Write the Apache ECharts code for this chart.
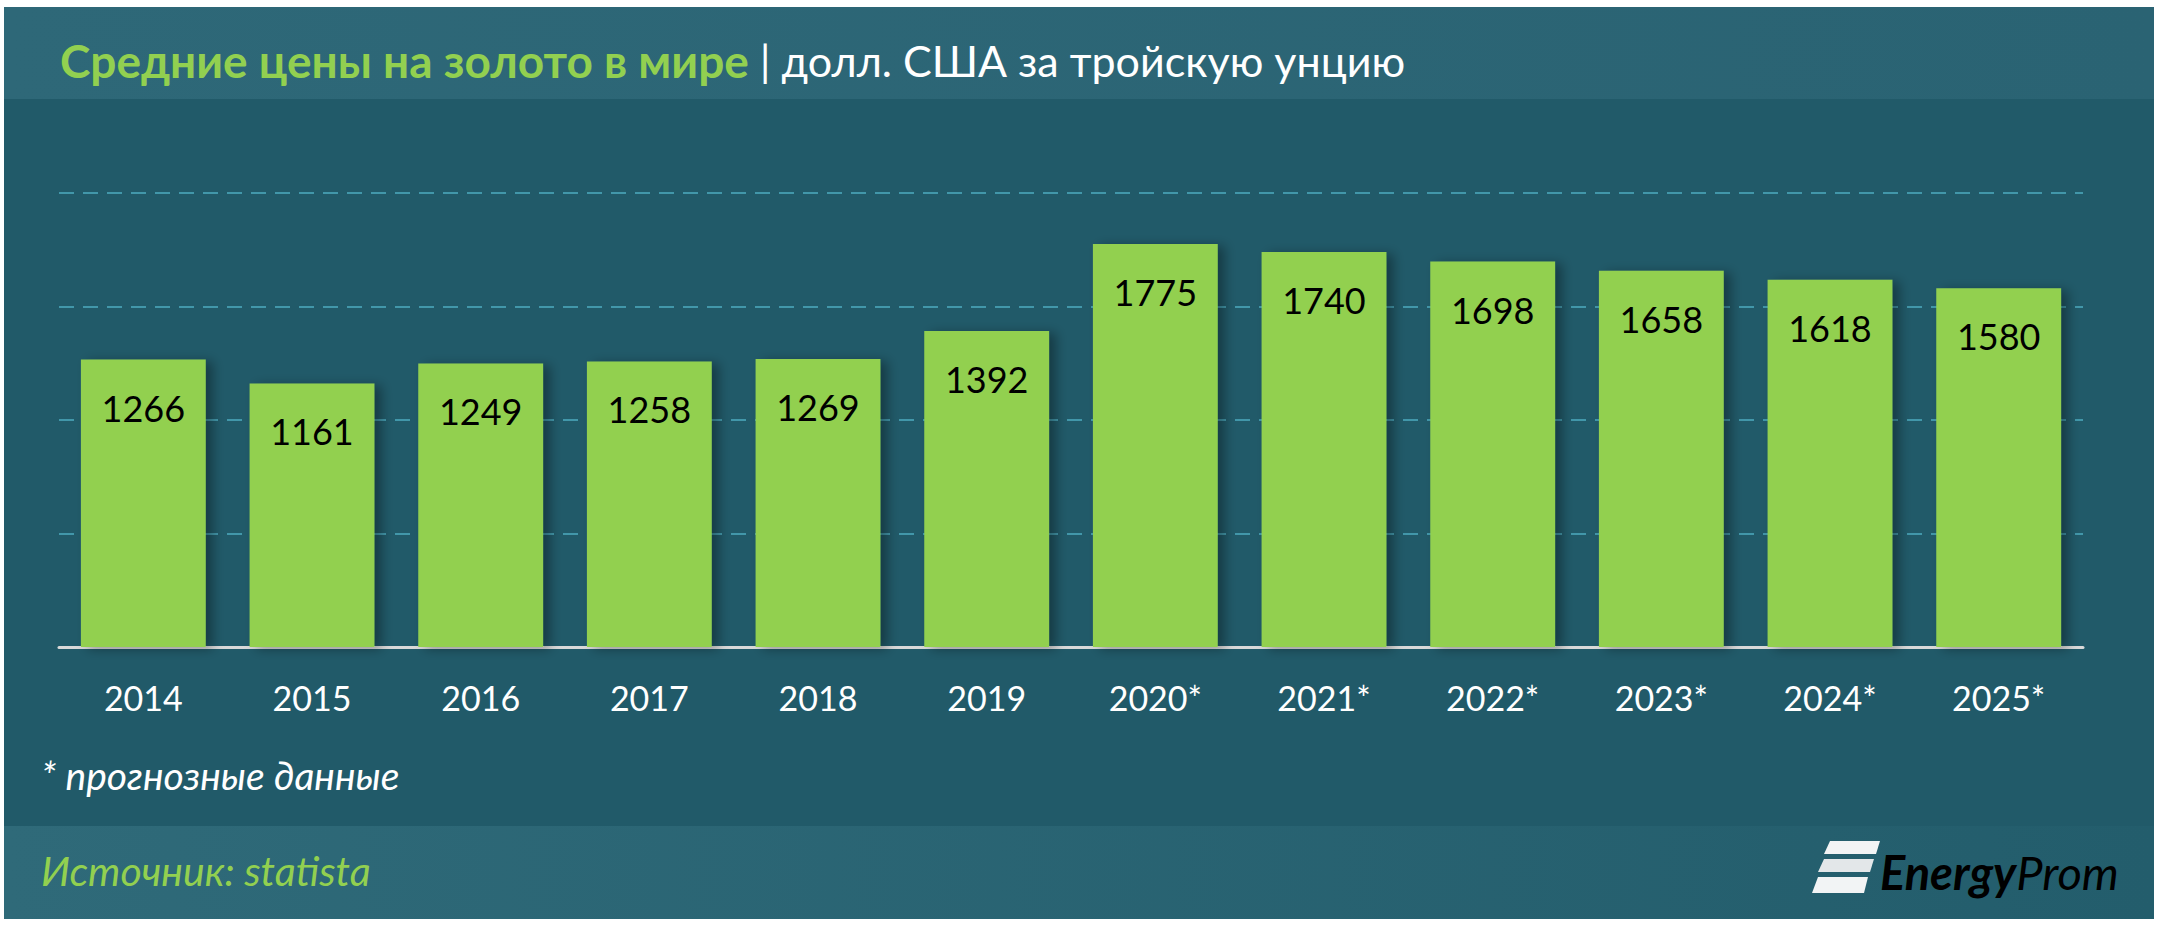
<!DOCTYPE html>
<html>
<head>
<meta charset="utf-8">
<script src="https://cdn.jsdelivr.net/npm/echarts@6/dist/echarts.min.js"></script>
<style>
  html, body { margin: 0; padding: 0; background: #fff; }
  #chart { width: 2160px; height: 928px; }
</style>
</head>
<body>
<div id="chart"></div>
<script>
// годы и средние цены (долл. США за тройскую унцию)
var years = ['2014', '2015', '2016', '2017', '2018', '2019', '2020*', '2021*', '2022*', '2023*', '2024*', '2025*'];
var prices = [1266, 1161, 1249, 1258, 1269, 1392, 1775, 1740, 1698, 1658, 1618, 1580];

var FONT = 'Lato, "Noto Sans", sans-serif';
var GREEN = '#92d050';

var chart = echarts.init(document.getElementById('chart'), null, { renderer: 'svg' });

chart.setOption({
    backgroundColor: '#ffffff',
    animation: false,
    title: {
        left: 55,
        top: 31,
        text: '{a|Средние цены на золото в мире}{b| | долл. США за тройскую унцию}',
        textStyle: {
            rich: {
                a: { fontFamily: FONT, fontSize: 46, fontWeight: 'bold', color: GREEN, lineHeight: 48 },
                b: { fontFamily: FONT, fontSize: 43, fontWeight: 'normal', color: '#ffffff', lineHeight: 48 }
            }
        }
    },
    grid: {
        left: 59,
        right: 77,
        top: 193,
        bottom: 281
    },
    xAxis: {
        type: 'category',
        data: years,
        axisLine: { lineStyle: { color: '#d9d9d9', width: 3 } },
        axisTick: { show: false },
        axisLabel: {
            color: '#ffffff',
            fontFamily: FONT,
            fontSize: 34,
            margin: 33
        }
    },
    yAxis: {
        type: 'value',
        min: 0,
        max: 2000,
        interval: 500,
        axisLabel: { show: false },
        axisLine: { show: false },
        axisTick: { show: false },
        splitLine: {
            lineStyle: { color: '#4297aa', width: 2, type: [15, 9] }
        }
    },
    series: [{
        type: 'bar',
        data: prices,
        barWidth: '74%',
        itemStyle: {
            color: GREEN,
            shadowColor: 'rgba(0,0,0,0.35)',
            shadowBlur: 12,
            shadowOffsetX: 7,
            shadowOffsetY: 2
        },
        label: {
            show: true,
            position: 'insideTop',
            distance: 30,
            color: '#000000',
            fontFamily: FONT,
            fontSize: 36
        }
    }],
    graphic: [
        // фон панели
        { type: 'rect', z: -10, shape: { x: 4, y: 7, width: 2150, height: 912 },
          style: { fill: '#215a69' } },
        // шапка
        { type: 'rect', z: -9, shape: { x: 4, y: 7, width: 2150, height: 92 },
          style: { fill: new echarts.graphic.LinearGradient(0, 0, 1, 0, [
              { offset: 0, color: '#2e6878' }, { offset: 1, color: '#2a6373' }]) } },
        // подвал
        { type: 'rect', z: -9, shape: { x: 4, y: 826, width: 2150, height: 93 },
          style: { fill: new echarts.graphic.LinearGradient(0, 0, 1, 0, [
              { offset: 0, color: '#2f6a79' }, { offset: 1, color: '#235d6c' }]) } },
        {
            type: 'text', left: 41, top: 755,
            style: { text: '* прогнозные данные', fill: '#ffffff', font: 'italic 39px ' + FONT }
        },
        {
            type: 'text', left: 41, top: 850,
            style: { text: 'Источник: statista', fill: GREEN, font: 'italic 41px ' + FONT }
        },
        // логотип
        { type: 'polygon', shape: { points: [[1830, 841], [1880, 841], [1876, 854], [1824, 854]] },
          style: { fill: '#f2f4f5' } },
        { type: 'polygon', shape: { points: [[1824, 859], [1874, 859], [1870, 872], [1818, 872]] },
          style: { fill: '#e3e7e9' } },
        { type: 'polygon', shape: { points: [[1818, 877], [1868, 877], [1864, 893], [1812, 893]] },
          style: { fill: '#f2f4f5' } },
        {
            type: 'text', left: 1880, top: 848,
            style: {
                text: '{a|Energy}{b|Prom}',
                rich: {
                    a: { fontFamily: FONT, fontSize: 47, fontStyle: 'italic', fontWeight: 'bold', color: '#ffffff' },
                    b: { fontFamily: FONT, fontSize: 47, fontStyle: 'italic', fontWeight: 'normal', color: '#ffffff' }
                }
            }
        }
    ]
});

window.addEventListener('resize', function () {
    chart.resize();
});
</script>
</body>
</html>
